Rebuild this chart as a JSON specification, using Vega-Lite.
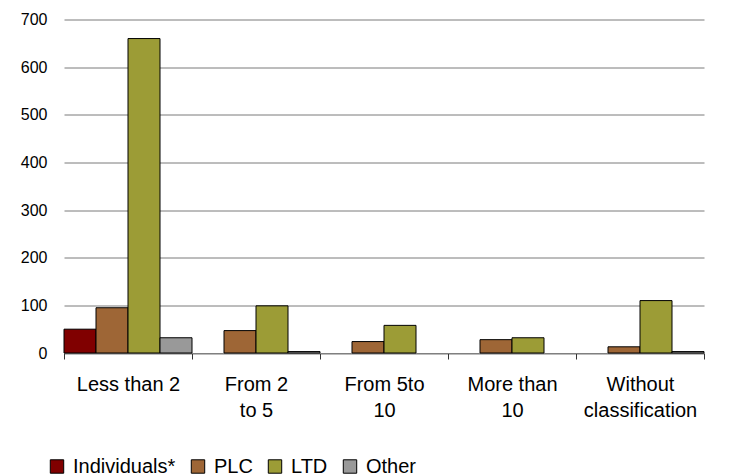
{
  "$schema": "https://vega.github.io/schema/vega-lite/v6.json",
  "width": 640,
  "height": 333.5,
  "autosize": {"type": "none"},
  "padding": {"left": 64, "top": 19.5, "right": 30, "bottom": 122},
  "background": "white",
  "config": {
    "view": {"stroke": null},
    "font": "Liberation Sans"
  },
  "data": {
    "values": [
      {"cat": "Less than 2", "type": "Individuals*", "v": 50},
      {"cat": "Less than 2", "type": "PLC", "v": 95},
      {"cat": "Less than 2", "type": "LTD", "v": 660},
      {"cat": "Less than 2", "type": "Other", "v": 32},
      {"cat": "From 2|to 5", "type": "PLC", "v": 47},
      {"cat": "From 2|to 5", "type": "LTD", "v": 99},
      {"cat": "From 2|to 5", "type": "Other", "v": 3},
      {"cat": "From 5to|10", "type": "PLC", "v": 24},
      {"cat": "From 5to|10", "type": "LTD", "v": 58},
      {"cat": "More than|10", "type": "PLC", "v": 28},
      {"cat": "More than|10", "type": "LTD", "v": 32},
      {"cat": "Without|classification", "type": "PLC", "v": 13},
      {"cat": "Without|classification", "type": "LTD", "v": 110},
      {"cat": "Without|classification", "type": "Other", "v": 3}
    ]
  },
  "mark": {"type": "bar", "stroke": "black", "strokeWidth": 1},
  "encoding": {
    "x": {
      "field": "cat",
      "type": "nominal",
      "sort": null,
      "scale": {
        "domain": ["Less than 2", "From 2|to 5", "From 5to|10", "More than|10", "Without|classification"],
        "paddingInner": 0,
        "paddingOuter": 0
      },
      "axis": {
        "title": null,
        "labelAngle": 0,
        "labelExpr": "split(datum.label, '|')",
        "labelFont": "Liberation Sans",
        "labelFontSize": 20,
        "labelColor": "black",
        "labelLineHeight": 26,
        "labelPadding": 15,
        "labelBaseline": "top",
        "tickBand": "extent",
        "tickSize": 6,
        "tickColor": "#333333",
        "domainColor": "#808080",
        "labelLimit": 250
      }
    },
    "xOffset": {
      "field": "type",
      "type": "nominal",
      "scale": {
        "domain": ["Individuals*", "PLC", "LTD", "Other"],
        "paddingInner": 0,
        "paddingOuter": 0
      }
    },
    "y": {
      "field": "v",
      "type": "quantitative",
      "scale": {"domain": [0, 700], "nice": false},
      "axis": {
        "title": null,
        "values": [0, 100, 200, 300, 400, 500, 600, 700],
        "domain": false,
        "ticks": false,
        "labelFont": "Liberation Sans",
        "labelFontSize": 16,
        "labelColor": "black",
        "labelPadding": 17,
        "gridColor": "#7a7a7a",
        "gridWidth": 1
      }
    },
    "color": {
      "field": "type",
      "type": "nominal",
      "scale": {
        "domain": ["Individuals*", "PLC", "LTD", "Other"],
        "range": ["#800000", "#9E6636", "#9C9C36", "#999999"]
      },
      "legend": {
        "title": null,
        "orient": "none",
        "direction": "horizontal",
        "legendX": -17,
        "legendY": 437,
        "symbolType": "square",
        "symbolSize": 180,
        "symbolStrokeColor": "black",
        "symbolStrokeWidth": 1,
        "symbolOpacity": 1,
        "labelFont": "Liberation Sans",
        "labelFontSize": 20,
        "labelColor": "black",
        "columnPadding": 12,
        "labelOffset": 6
      }
    }
  }
}
